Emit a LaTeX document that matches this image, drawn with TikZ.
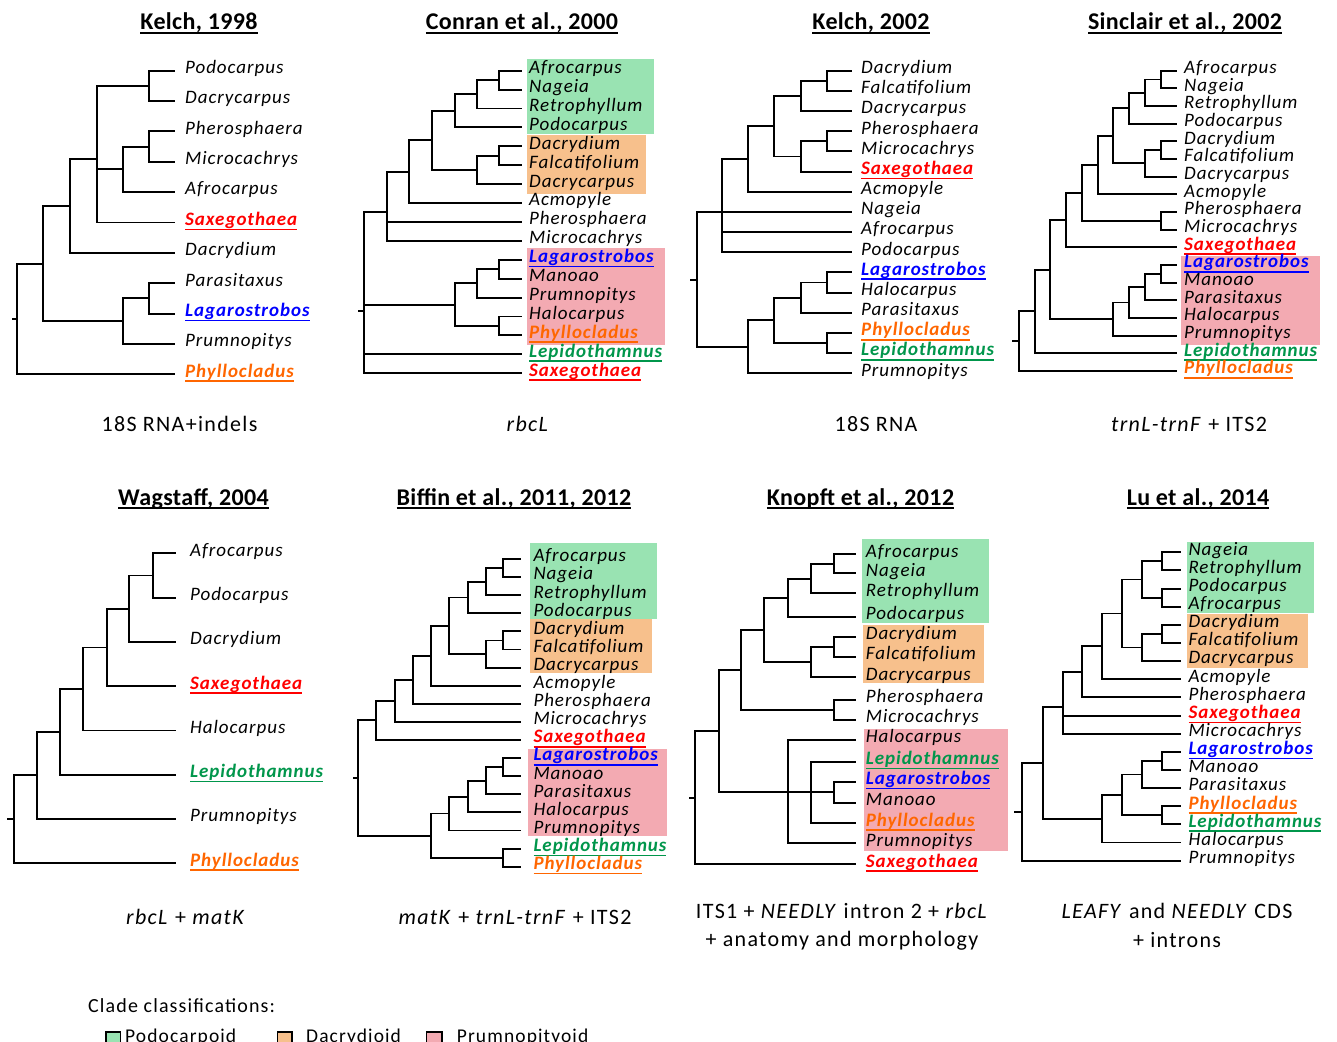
\documentclass[tikz,border=0pt]{standalone}
\usepackage{fontspec}
\setmainfont{Carlito}
\newfontfamily\labfont[LetterSpace=5]{Carlito}
\newfontfamily\capfont[LetterSpace=6]{Carlito}
\newfontfamily\ttlfont[LetterSpace=1.5]{Carlito}
\newfontfamily\legfont[LetterSpace=5.7]{Carlito}
\definecolor{cpodo}{RGB}{153,227,178}
\definecolor{cdacr}{RGB}{247,192,140}
\definecolor{cprum}{RGB}{243,170,178}
\definecolor{tred}{RGB}{255,0,0}
\definecolor{tblue}{RGB}{0,0,255}
\definecolor{torange}{RGB}{255,102,0}
\definecolor{tgreen}{RGB}{0,150,75}
\newcommand\lul[1]{\setbox0\hbox{#1}\rlap{\rule[-4.8pt]{\wd0}{1.6pt}}\box0}
\newcommand\tul[1]{\setbox0\hbox{#1}\rlap{\rule[-4.2pt]{\wd0}{1.9pt}}\box0}
\newcommand\Sax{\textcolor{tred}{\lul{\bfseries Saxegothaea}}}
\newcommand\Lag{\textcolor{tblue}{\lul{\bfseries Lagarostrobos}}}
\newcommand\Phy{\textcolor{torange}{\lul{\bfseries Phyllocladus}}}
\newcommand\Lep{\textcolor{tgreen}{\lul{\bfseries Lepidothamnus}}}
\newcommand\lf[3]{\coordinate (#1) at (\xe,#2);\node[lab] (#1t) at (\xl,#2+2.8) {#3};}
\newcommand\br[2]{\foreach \c in {#2}{\draw[brl] (#1) |- (\c);}}
\begin{document}
\begin{tikzpicture}[x=1pt,y=-1pt,
  brl/.style={line width=1.9pt},
  lab/.style={anchor=base west,inner sep=0pt,font=\labfont\fontsize{19}{21}\selectfont\itshape},
  ttl/.style={anchor=base,inner sep=0pt,font=\ttlfont\fontsize{24}{28}\selectfont\bfseries},
  captxt/.style={anchor=base,inner sep=0pt,font=\capfont\fontsize{22}{28}\selectfont},
  leg/.style={anchor=base west,inner sep=0pt,font=\legfont\fontsize{19.5}{24}\selectfont},
  lbox/.style={draw=black,line width=1.5pt}]
\useasboundingbox (0,0) rectangle (1337,1041);
\fill[white] (0,0) rectangle (1337,1041);
% clade boxes
\fill[cpodo] (526.7,59) rectangle (654,134.3);
\fill[cdacr] (526.7,135) rectangle (646,194);
\fill[cprum] (526.7,248.3) rectangle (665.3,345);
\fill[cprum] (1181,256) rectangle (1320,345);
\fill[cpodo] (530.3,543.3) rectangle (656.7,619);
\fill[cdacr] (530.3,619) rectangle (651.7,673.3);
\fill[cprum] (528,749.3) rectangle (666.7,836);
\fill[cpodo] (862,539) rectangle (989,623.3);
\fill[cdacr] (863,625) rectangle (984,682.7);
\fill[cprum] (864.3,729) rectangle (1008.3,851);
\fill[cpodo] (1187,542.3) rectangle (1314.3,613.3);
\fill[cdacr] (1187,614.3) rectangle (1307.7,667.7);
% titles
\node[ttl] (tA) at (199,30) {\tul{Kelch, 1998}};
\node[ttl] (tB) at (522,30) {\tul{Conran et al., 2000}};
\node[ttl] (tC) at (871,30) {\tul{Kelch, 2002}};
\node[ttl] (tD) at (1185,30) {\tul{Sinclair et al., 2002}};
\node[ttl] (tE) at (193.5,505) {\tul{Wagstaff, 2004}};
\node[ttl] (tF) at (514,505) {\tul{Biffin et al., 2011, 2012}};
\node[ttl] (tG) at (860.5,505) {\tul{Knopft et al., 2012}};
\node[ttl] (tH) at (1198,505) {\tul{Lu et al., 2014}};
% captions
\node[captxt] (cA) at (179.5,431) {18S RNA+indels};
\node[captxt] (cB) at (528,431) {\textit{rbcL}};
\node[captxt] (cC) at (876,431) {18S RNA};
\node[captxt] (cD) at (1189,431) {\textit{trnL-trnF} + ITS2};
\node[captxt] (cE) at (186,924) {\textit{rbcL} + \textit{matK}};
\node[captxt] (cF) at (515,924) {\textit{matK} + \textit{trnL-trnF} + ITS2};
\node[captxt] (cG1) at (842,918) {ITS1 + \textit{NEEDLY} intron 2 + \textit{rbcL}};
\node[captxt] (cG2) at (842,946) {+ anatomy and morphology};
\node[captxt] (cH1) at (1177,918.5) {\textit{LEAFY} and \textit{NEEDLY} CDS};
\node[captxt] (cH2) at (1177,947) {+ introns};
% legend
\node[leg,font=\legfont\fontsize{20}{24}\selectfont] (lg) at (88,1012) {Clade classifications:};
\draw[lbox,fill=cpodo] (106,1032) rectangle (120.7,1048);
\node[leg] (lg1) at (125,1042.5) {Podocarpoid};
\draw[lbox,fill=cdacr] (277.3,1032) rectangle (292,1048);
\node[leg] (lg2) at (306,1042.5) {Dacrydioid};
\draw[lbox,fill=cprum] (426.7,1032) rectangle (442,1048);
\node[leg] (lg3) at (456.7,1042.5) {Prumnopityoid};
% ---------------- Tree A: Kelch 1998
\def\xe{175}\def\xl{185}
\lf{A0}{70.7}{Podocarpus}
\lf{A1}{101.1}{Dacrycarpus}
\lf{A2}{131.4}{Pherosphaera}
\lf{A3}{161.8}{Microcachrys}
\lf{A4}{192.1}{Afrocarpus}
\lf{A5}{222.5}{\Sax}
\lf{A6}{252.9}{Dacrydium}
\lf{A7}{283.2}{Parasitaxus}
\lf{A8}{313.6}{\Lag}
\lf{A9}{343.9}{Prumnopitys}
\lf{A10}{374.3}{\Phy}
\coordinate (Aa1) at (149.3,85.9);
\coordinate (Aa2) at (149.3,146.6);
\coordinate (Aa3) at (123.3,169.35);
\coordinate (Aa4) at (96.7,159.25);
\coordinate (Aa5) at (70,206.1);
\coordinate (Aa6) at (149.3,298.4);
\coordinate (Aa7) at (123.3,321.15);
\coordinate (Aa8) at (43.3,263.6);
\coordinate (Ar) at (17.3,318.95);
\coordinate (At) at (11.7,318.95);
\br{Aa1}{A0,A1}\br{Aa2}{A2,A3}\br{Aa3}{Aa2,A4}\br{Aa4}{Aa1,Aa3,A5}
\br{Aa5}{Aa4,A6}\br{Aa6}{A7,A8}\br{Aa7}{Aa6,A9}\br{Aa8}{Aa5,Aa7}\br{Ar}{Aa8,A10}
\draw[brl] (Ar) -- (At);
% ---------------- Tree B: Conran 2000
\def\xe{521.7}\def\xl{529}
\lf{B0}{70.7}{Afrocarpus}
\lf{B1}{89.6}{Nageia}
\lf{B2}{108.5}{Retrophyllum}
\lf{B3}{127.4}{Podocarpus}
\lf{B4}{146.3}{Dacrydium}
\lf{B5}{165.3}{Falcatifolium}
\lf{B6}{184.2}{Dacrycarpus}
\lf{B7}{203.1}{Acmopyle}
\lf{B8}{222.0}{Pherosphaera}
\lf{B9}{240.9}{Microcachrys}
\lf{B10}{259.8}{\Lag}
\lf{B11}{278.7}{Manoao}
\lf{B12}{297.6}{Prumnopitys}
\lf{B13}{316.5}{Halocarpus}
\lf{B14}{335.4}{\Phy}
\lf{B15}{354.4}{\Lep}
\lf{B16}{373.3}{\Sax}
\coordinate (Ba1) at (499.3,80.15);
\coordinate (Ba2) at (476.7,94.3);
\coordinate (Ba3) at (455,110.9);
\coordinate (Ba4) at (499.3,155.8);
\coordinate (Ba5) at (476.7,170);
\coordinate (Ba6) at (431.7,140.4);
\coordinate (Ba7) at (409.3,171.8);
\coordinate (Ba8) at (386.7,211.6);
\coordinate (Ba9) at (499.3,269.3);
\coordinate (Ba10) at (476.7,283.4);
\coordinate (Ba11) at (499.3,326);
\coordinate (Ba12) at (455,304.7);
\coordinate (Br) at (364,311);
\coordinate (Bt) at (358.3,311);
\br{Ba1}{B0,B1}\br{Ba2}{Ba1,B2}\br{Ba3}{Ba2,B3}\br{Ba4}{B4,B5}\br{Ba5}{Ba4,B6}
\br{Ba6}{Ba3,Ba5}\br{Ba7}{Ba6,B7}\br{Ba8}{Ba7,B8,B9}\br{Ba9}{B10,B11}
\br{Ba10}{Ba9,B12}\br{Ba11}{B13,B14}\br{Ba12}{Ba10,Ba11}\br{Br}{Ba8,Ba12,B15,B16}
\draw[brl] (Br) -- (Bt);
% ---------------- Tree C: Kelch 2002
\def\xe{851.7}\def\xl{861}
\lf{C0}{70.7}{Dacrydium}
\lf{C1}{90.9}{Falcatifolium}
\lf{C2}{111.0}{Dacrycarpus}
\lf{C3}{131.2}{Pherosphaera}
\lf{C4}{151.4}{Microcachrys}
\lf{C5}{171.6}{\Sax}
\lf{C6}{191.7}{Acmopyle}
\lf{C7}{211.9}{Nageia}
\lf{C8}{232.1}{Afrocarpus}
\lf{C9}{252.2}{Podocarpus}
\lf{C10}{272.4}{\Lag}
\lf{C11}{292.6}{Halocarpus}
\lf{C12}{312.7}{Parasitaxus}
\lf{C13}{332.9}{\Phy}
\lf{C14}{353.1}{\Lep}
\lf{C15}{373.3}{Prumnopitys}
\coordinate (Ca1) at (826.7,80.8);
\coordinate (Ca2) at (800.7,95.9);
\coordinate (Ca3) at (826.7,141.3);
\coordinate (Ca4) at (800.7,156.45);
\coordinate (Ca5) at (774.3,126.2);
\coordinate (Ca6) at (748.3,159);
\coordinate (Ca7) at (722.3,212.3);
\coordinate (Ca8) at (826.7,282.5);
\coordinate (Ca9) at (800.7,297.6);
\coordinate (Ca10) at (826.7,343);
\coordinate (Ca11) at (774.3,320.3);
\coordinate (Ca12) at (748.3,346.8);
\coordinate (Cr) at (696.7,279.55);
\coordinate (Ct) at (690,279.55);
\br{Ca1}{C0,C1}\br{Ca2}{Ca1,C2}\br{Ca3}{C3,C4}\br{Ca4}{Ca3,C5}\br{Ca5}{Ca2,Ca4}
\br{Ca6}{Ca5,C6}\br{Ca7}{Ca6,C7,C8,C9}\br{Ca8}{C10,C11}\br{Ca9}{Ca8,C12}
\br{Ca10}{C13,C14}\br{Ca11}{Ca9,Ca10}\br{Ca12}{Ca11,C15}\br{Cr}{Ca7,Ca12}
\draw[brl] (Cr) -- (Ct);
% ---------------- Tree D: Sinclair 2002
\def\xe{1176.7}\def\xl{1184}
\lf{D0}{70.7}{Afrocarpus}
\lf{D1}{88.36}{Nageia}
\lf{D2}{106.02}{Retrophyllum}
\lf{D3}{123.68}{Podocarpus}
\lf{D4}{141.34}{Dacrydium}
\lf{D5}{159.0}{Falcatifolium}
\lf{D6}{176.66}{Dacrycarpus}
\lf{D7}{194.32}{Acmopyle}
\lf{D8}{211.98}{Pherosphaera}
\lf{D9}{229.64}{Microcachrys}
\lf{D10}{247.3}{\Sax}
\lf{D11}{264.96}{\Lag}
\lf{D12}{282.62}{Manoao}
\lf{D13}{300.28}{Parasitaxus}
\lf{D14}{317.94}{Halocarpus}
\lf{D15}{335.6}{Prumnopitys}
\lf{D16}{353.26}{\Lep}
\lf{D17}{370.92}{\Phy}
\coordinate (Da1) at (1160.7,79.5);
\coordinate (Da2) at (1145,92.8);
\coordinate (Da3) at (1129.3,108.2);
\coordinate (Da4) at (1160.7,150.2);
\coordinate (Da5) at (1145,163.4);
\coordinate (Da6) at (1113.3,135.8);
\coordinate (Da7) at (1097.7,165);
\coordinate (Da8) at (1160.7,220.8);
\coordinate (Da9) at (1082.3,192.9);
\coordinate (Da10) at (1066,220.1);
\coordinate (Da11) at (1160.7,273.8);
\coordinate (Da12) at (1145,287);
\coordinate (Da13) at (1129.3,302.5);
\coordinate (Da14) at (1113.3,319);
\coordinate (Da15) at (1050,269.6);
\coordinate (Da16) at (1035,311.4);
\coordinate (Dr) at (1019,341.2);
\coordinate (Dt) at (1012.3,341.2);
\br{Da1}{D0,D1}\br{Da2}{Da1,D2}\br{Da3}{Da2,D3}\br{Da4}{D4,D5}\br{Da5}{Da4,D6}
\br{Da6}{Da3,Da5}\br{Da7}{Da6,D7}\br{Da8}{D8,D9}\br{Da9}{Da7,Da8}\br{Da10}{Da9,D10}
\br{Da11}{D11,D12}\br{Da12}{Da11,D13}\br{Da13}{Da12,D14}\br{Da14}{Da13,D15}
\br{Da15}{Da10,Da14}\br{Da16}{Da15,D16}\br{Dr}{Da16,D17}
\draw[brl] (Dr) -- (Dt);
% ---------------- Tree E: Wagstaff 2004
\def\xe{175.7}\def\xl{190}
\lf{E0}{553.3}{Afrocarpus}
\lf{E1}{597.6}{Podocarpus}
\lf{E2}{641.9}{Dacrydium}
\lf{E3}{686.2}{\Sax}
\lf{E4}{730.5}{Halocarpus}
\lf{E5}{774.7}{\Lep}
\lf{E6}{819.0}{Prumnopitys}
\lf{E7}{863.3}{\Phy}
\coordinate (Ea1) at (152.7,575.45);
\coordinate (Ea2) at (129.3,608.7);
\coordinate (Ea3) at (106.7,647.45);
\coordinate (Ea4) at (83.3,689);
\coordinate (Ea5) at (60,731.85);
\coordinate (Ea6) at (36.7,775.4);
\coordinate (Er) at (14,819.35);
\coordinate (Et) at (6.5,819.35);
\br{Ea1}{E0,E1}\br{Ea2}{Ea1,E2}\br{Ea3}{Ea2,E3}\br{Ea4}{Ea3,E4}
\br{Ea5}{Ea4,E5}\br{Ea6}{Ea5,E6}\br{Er}{Ea6,E7}
\draw[brl] (Er) -- (Et);
% ---------------- Tree F: Biffin 2011, 2012
\def\xe{520.7}\def\xl{533.3}
\lf{F0}{559}{Afrocarpus}
\lf{F1}{577.1}{Nageia}
\lf{F2}{595.2}{Retrophyllum}
\lf{F3}{613.3}{Podocarpus}
\lf{F4}{631.4}{Dacrydium}
\lf{F5}{649.5}{Falcatifolium}
\lf{F6}{667.6}{Dacrycarpus}
\lf{F7}{685.7}{Acmopyle}
\lf{F8}{703.8}{Pherosphaera}
\lf{F9}{721.9}{Microcachrys}
\lf{F10}{740}{\Sax}
\lf{F11}{758.1}{\Lag}
\lf{F12}{776.2}{Manoao}
\lf{F13}{794.3}{Parasitaxus}
\lf{F14}{812.4}{Halocarpus}
\lf{F15}{830.5}{Prumnopitys}
\lf{F16}{848.6}{\Lep}
\lf{F17}{866.7}{\Phy}
\coordinate (Fa1) at (503.3,568.05);
\coordinate (Fa2) at (485.7,581.6);
\coordinate (Fa3) at (467.7,597.5);
\coordinate (Fa4) at (503.3,640.45);
\coordinate (Fa5) at (485.7,654);
\coordinate (Fa6) at (449.3,625.75);
\coordinate (Fa7) at (431,655.7);
\coordinate (Fa8) at (413,679.75);
\coordinate (Fa9) at (395,700.8);
\coordinate (Fa10) at (376,720.4);
\coordinate (Fa11) at (503.3,767.15);
\coordinate (Fa12) at (485.7,780.7);
\coordinate (Fa13) at (467.7,796.55);
\coordinate (Fa14) at (449.3,813.5);
\coordinate (Fa15) at (503.3,857.65);
\coordinate (Fa16) at (431,835.6);
\coordinate (Fr) at (357.7,778);
\coordinate (Ft) at (353,778);
\br{Fa1}{F0,F1}\br{Fa2}{Fa1,F2}\br{Fa3}{Fa2,F3}\br{Fa4}{F4,F5}\br{Fa5}{Fa4,F6}
\br{Fa6}{Fa3,Fa5}\br{Fa7}{Fa6,F7}\br{Fa8}{Fa7,F8}\br{Fa9}{Fa8,F9}\br{Fa10}{Fa9,F10}
\br{Fa11}{F11,F12}\br{Fa12}{Fa11,F13}\br{Fa13}{Fa12,F14}\br{Fa14}{Fa13,F15}
\br{Fa15}{F16,F17}\br{Fa16}{Fa14,Fa15}\br{Fr}{Fa10,Fa16}
\draw[brl] (Fr) -- (Ft);
% ---------------- Tree G: Knopft 2012
\def\xe{855.7}\def\xl{865.7}
\lf{G0}{554.3}{Afrocarpus}
\lf{G1}{573.3}{Nageia}
\lf{G2}{593.3}{Retrophyllum}
\lf{G3}{616.7}{Podocarpus}
\lf{G4}{636.7}{Dacrydium}
\lf{G5}{656.7}{Falcatifolium}
\lf{G6}{677.3}{Dacrycarpus}
\lf{G7}{700}{Pherosphaera}
\lf{G8}{720}{Microcachrys}
\lf{G9}{740}{Halocarpus}
\lf{G10}{761.7}{\Lep}
\lf{G11}{781.7}{\Lag}
\lf{G12}{802.7}{Manoao}
\lf{G13}{823.3}{\Phy}
\lf{G14}{843.3}{Prumnopitys}
\lf{G15}{864.3}{\Sax}
\coordinate (Ga1) at (834,563.8);
\coordinate (Ga2) at (810.7,578.55);
\coordinate (Ga3) at (787.7,597.6);
\coordinate (Ga4) at (834,646.7);
\coordinate (Ga5) at (810.7,662);
\coordinate (Ga6) at (764.3,629.8);
\coordinate (Ga7) at (834,710);
\coordinate (Ga8) at (741,669.9);
\coordinate (Ga9) at (834,792.2);
\coordinate (Ga10) at (810.7,792.4);
\coordinate (Ga11) at (787.7,791.9);
\coordinate (Ga12) at (719,730.9);
\coordinate (Gr) at (695,797.6);
\coordinate (Gt) at (689,797.6);
\br{Ga1}{G0,G1}\br{Ga2}{Ga1,G2}\br{Ga3}{Ga2,G3}\br{Ga4}{G4,G5}\br{Ga5}{Ga4,G6}
\br{Ga6}{Ga3,Ga5}\br{Ga7}{G7,G8}\br{Ga8}{Ga6,Ga7}\br{Ga9}{G11,G12}
\br{Ga10}{G10,Ga9,G13}\br{Ga11}{G9,Ga10,G14}\br{Ga12}{Ga8,Ga11}\br{Gr}{Ga12,G15}
\draw[brl] (Gr) -- (Gt);
% ---------------- Tree H: Lu 2014
\def\xe{1180.7}\def\xl{1188.3}
\lf{H0}{552.3}{Nageia}
\lf{H1}{570.4}{Retrophyllum}
\lf{H2}{588.6}{Podocarpus}
\lf{H3}{606.7}{Afrocarpus}
\lf{H4}{624.9}{Dacrydium}
\lf{H5}{643.0}{Falcatifolium}
\lf{H6}{661.1}{Dacrycarpus}
\lf{H7}{679.3}{Acmopyle}
\lf{H8}{697.4}{Pherosphaera}
\lf{H9}{715.6}{\Sax}
\lf{H10}{733.7}{Microcachrys}
\lf{H11}{751.8}{\Lag}
\lf{H12}{770.0}{Manoao}
\lf{H13}{788.1}{Parasitaxus}
\lf{H14}{806.3}{\Phy}
\lf{H15}{824.4}{\Lep}
\lf{H16}{842.5}{Halocarpus}
\lf{H17}{860.7}{Prumnopitys}
\coordinate (Ha1) at (1161.7,561.35);
\coordinate (Ha2) at (1161.7,597.65);
\coordinate (Ha3) at (1141.7,579.5);
\coordinate (Ha4) at (1161.7,633.95);
\coordinate (Ha5) at (1141.7,647.5);
\coordinate (Ha6) at (1121.7,613.5);
\coordinate (Ha7) at (1101.7,646.4);
\coordinate (Ha8) at (1082.3,671.9);
\coordinate (Ha9) at (1062.7,707.1);
\coordinate (Ha10) at (1161.7,760.9);
\coordinate (Ha11) at (1141.7,774.5);
\coordinate (Ha12) at (1161.7,815.35);
\coordinate (Ha13) at (1121.7,794.9);
\coordinate (Ha14) at (1101.7,818.7);
\coordinate (Ha15) at (1042.7,762.9);
\coordinate (Hr) at (1022.3,811.8);
\coordinate (Ht) at (1014.3,811.8);
\br{Ha1}{H0,H1}\br{Ha2}{H2,H3}\br{Ha3}{Ha1,Ha2}\br{Ha4}{H4,H5}\br{Ha5}{Ha4,H6}
\br{Ha6}{Ha3,Ha5}\br{Ha7}{Ha6,H7}\br{Ha8}{Ha7,H8}\br{Ha9}{Ha8,H9,H10}
\br{Ha10}{H11,H12}\br{Ha11}{Ha10,H13}\br{Ha12}{H14,H15}\br{Ha13}{Ha11,Ha12}
\br{Ha14}{Ha13,H16}\br{Ha15}{Ha9,Ha14}\br{Hr}{Ha15,H17}
\draw[brl] (Hr) -- (Ht);
\end{tikzpicture}
\end{document}
